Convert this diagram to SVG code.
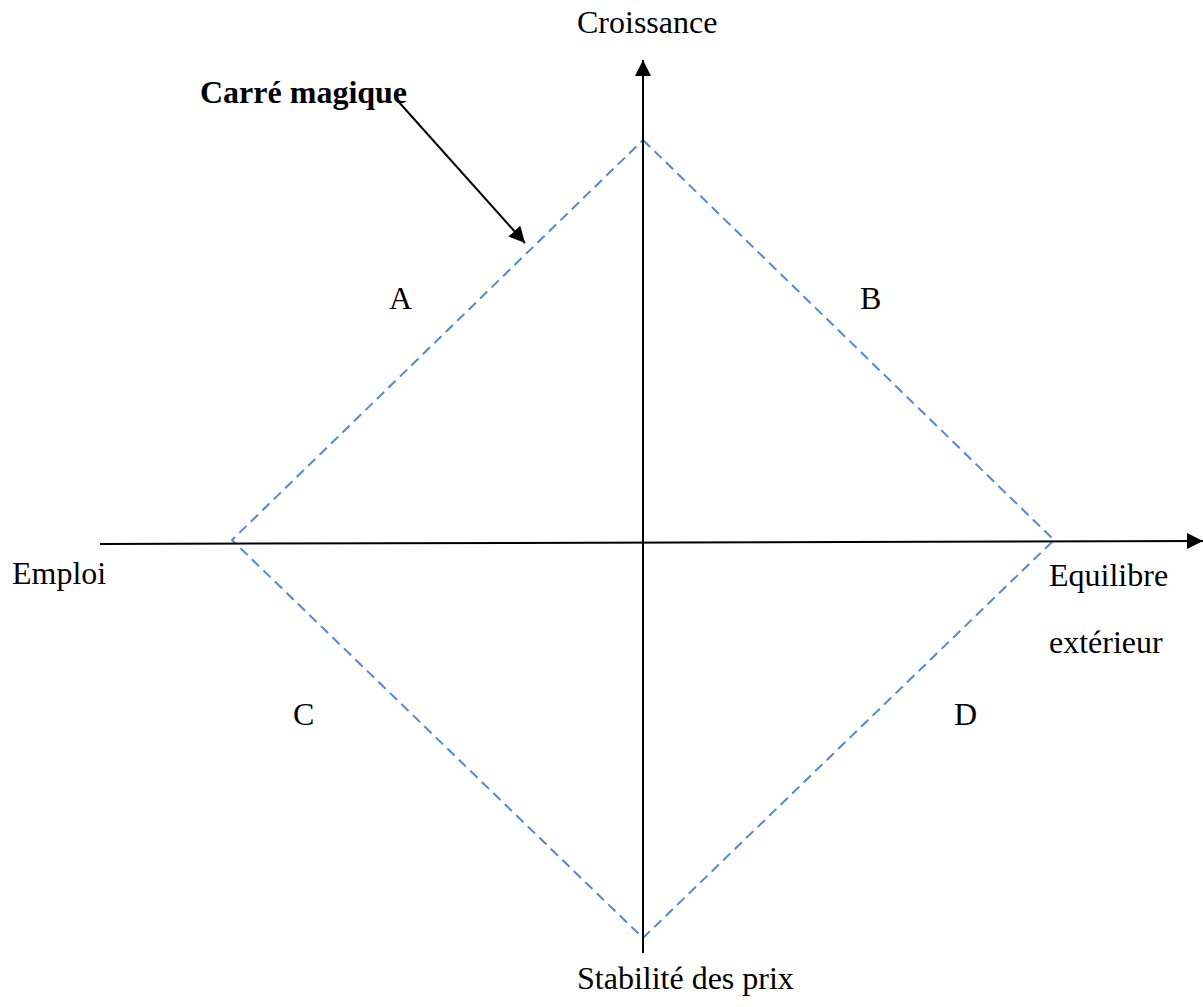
<svg xmlns="http://www.w3.org/2000/svg" width="1203" height="1007" viewBox="0 0 1203 1007">
<style>
text{font-family:"Liberation Serif","Times New Roman",serif;font-size:32px;fill:#000}
.b{font-weight:bold}
.axis{stroke:#000;stroke-width:2;fill:none}
.dash{stroke:#5289d6;stroke-width:2;fill:none;stroke-dasharray:10 6}
</style>
<defs>
<marker id="ah2" viewBox="0 0 10 10" refX="10" refY="5" markerWidth="16" markerHeight="16" markerUnits="userSpaceOnUse" orient="auto">
<path d="M0,0 L10,5 L0,10 Z" fill="#000"/>
</marker>
</defs>
<rect width="1203" height="1007" fill="#fff"/>
<g id="square">
<path class="dash" d="M643,140 L1054,540 L643,938 L232,540 Z"/>
</g>
<g id="connectors">
<line class="axis" x1="643" y1="953" x2="643" y2="60" marker-end="url(#ah2)"/>
<line class="axis" x1="100" y1="544" x2="1203" y2="541" marker-end="url(#ah2)"/>
<line class="axis" x1="397" y1="100" x2="525" y2="243" marker-end="url(#ah2)"/>
</g>
<g id="croissance"><text x="577" y="33">Croissance</text></g>
<g id="stabilite"><text x="577" y="989">Stabilité des prix</text></g>
<g id="emploi"><text x="12" y="584">Emploi</text></g>
<g id="equilibre"><text x="1049" y="586">Equilibre</text><text x="1049" y="653">extérieur</text></g>
<g id="carre"><text class="b" x="200" y="103">Carré magique</text></g>
<g id="labelA"><text x="389" y="309">A</text></g>
<g id="labelB"><text x="860" y="309">B</text></g>
<g id="labelC"><text x="293" y="725">C</text></g>
<g id="labelD"><text x="954" y="725">D</text></g>
</svg>
